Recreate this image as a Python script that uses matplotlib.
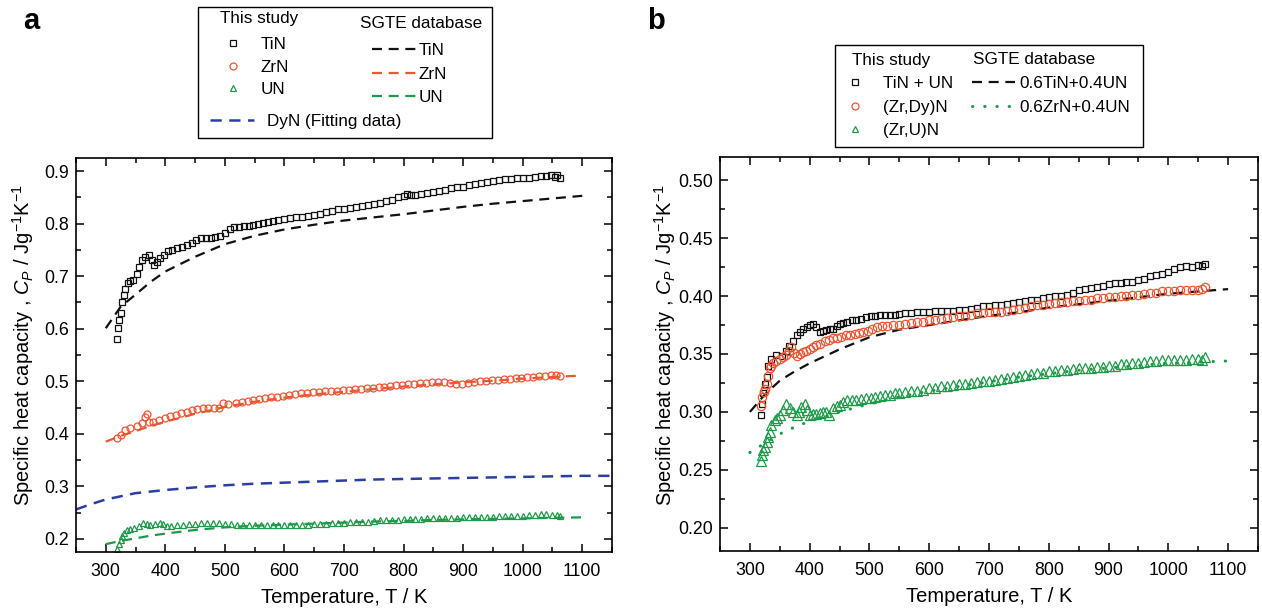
import numpy as np
import matplotlib
matplotlib.use('Agg')
import matplotlib.pyplot as plt
from matplotlib.lines import Line2D
from matplotlib.patches import Rectangle
from matplotlib.ticker import MultipleLocator, FormatStrFormatter

plt.rcParams['font.family'] = ['Liberation Sans', 'DejaVu Sans']
plt.rcParams['mathtext.fontset'] = 'custom'
plt.rcParams['mathtext.rm'] = 'Liberation Sans'
plt.rcParams['mathtext.it'] = 'Liberation Sans:italic'
plt.rcParams['mathtext.bf'] = 'Liberation Sans:bold'

BLACK = '#111111'
ORANGE = '#EE5533'
GREEN = '#1C9A48'
BLUE = '#2B3FA3'

# ---------------- panel a: measured data ----------------
tin_T = [319, 321, 323, 326, 328, 330, 333, 337, 341, 346, 352, 356, 361, 366, 372, 377, 381, 386, 391, 398,
         405, 412, 420, 428, 436, 444, 452, 460, 468, 476, 484, 492, 500, 508, 516, 524, 532, 540, 548, 556,
         564, 572, 580, 590, 600, 610, 620, 630, 640, 650, 660, 670, 680, 690, 700, 710, 720, 730, 740, 750,
         760, 770, 780, 790, 800, 806, 812, 820, 830, 840, 850, 860, 870, 880, 890, 900, 910, 920, 930, 940,
         950, 960, 970, 980, 990, 1000, 1010, 1020, 1030, 1040, 1048, 1054, 1058, 1062]
tin_cp = [0.580, 0.602, 0.617, 0.630, 0.651, 0.664, 0.675, 0.687, 0.690, 0.693, 0.705, 0.717, 0.731, 0.737, 0.740,
          0.731, 0.722, 0.727, 0.734, 0.740, 0.748, 0.750, 0.753, 0.756, 0.759, 0.764, 0.768, 0.772, 0.773, 0.773,
          0.774, 0.776, 0.782, 0.789, 0.793, 0.794, 0.795, 0.796, 0.797, 0.799, 0.802, 0.804, 0.805, 0.807, 0.808,
          0.810, 0.812, 0.813, 0.815, 0.817, 0.819, 0.822, 0.825, 0.827, 0.828, 0.830, 0.832, 0.834, 0.835, 0.837,
          0.840, 0.843, 0.846, 0.850, 0.852, 0.857, 0.854, 0.855, 0.857, 0.859, 0.861, 0.863, 0.865, 0.867, 0.869,
          0.870, 0.873, 0.876, 0.878, 0.880, 0.882, 0.884, 0.885, 0.885, 0.886, 0.886, 0.886, 0.888, 0.891, 0.890,
          0.893, 0.888, 0.892, 0.886]

zrn_T = [319, 325, 333, 341, 352, 361, 366, 369, 372, 380, 390, 400, 408, 418, 427, 436, 445, 454, 463, 472,
         481, 490, 496, 505, 518, 528, 538, 548, 558, 568, 578, 588, 598, 608, 618, 628, 638, 648, 658, 668,
         678, 688, 698, 708, 718, 728, 738, 748, 758, 768, 778, 788, 798, 808, 818, 828, 838, 848, 858, 868,
         878, 888, 898, 908, 918, 928, 938, 948, 958, 968, 978, 988, 998, 1008, 1018, 1028, 1038, 1048, 1056, 1062]
zrn_cp = [0.392, 0.398, 0.408, 0.411, 0.414, 0.420, 0.432, 0.437, 0.423, 0.423, 0.427, 0.430, 0.433, 0.436, 0.439,
          0.442, 0.445, 0.447, 0.449, 0.449, 0.449, 0.450, 0.458, 0.457, 0.458, 0.461, 0.463, 0.465, 0.467, 0.469,
          0.470, 0.471, 0.472, 0.473, 0.475, 0.477, 0.478, 0.479, 0.480, 0.481, 0.482, 0.482, 0.483, 0.484, 0.485,
          0.486, 0.487, 0.488, 0.489, 0.490, 0.491, 0.492, 0.493, 0.494, 0.495, 0.496, 0.497, 0.498, 0.499, 0.498,
          0.496, 0.494, 0.495, 0.497, 0.499, 0.500, 0.501, 0.502, 0.503, 0.504, 0.505, 0.506, 0.507, 0.508, 0.509,
          0.510, 0.510, 0.512, 0.511, 0.510]

un_T = [319, 322, 325, 328, 330, 336, 341, 347, 355, 363, 369, 375, 383, 391, 396, 402, 410, 420, 430, 440,
        450, 460, 470, 480, 490, 500, 510, 520, 530, 540, 550, 560, 570, 580, 590, 600, 610, 620, 630, 640,
        650, 660, 670, 680, 690, 700, 710, 720, 730, 740, 750, 760, 770, 780, 790, 800, 810, 820, 830, 840,
        850, 860, 870, 880, 890, 900, 910, 920, 930, 940, 950, 960, 970, 980, 990, 1000, 1010, 1020, 1030, 1040,
        1050, 1058, 1062]
un_cp = [0.180, 0.190, 0.198, 0.205, 0.211, 0.217, 0.219, 0.221, 0.224, 0.230, 0.228, 0.227, 0.228, 0.231, 0.229,
         0.224, 0.225, 0.226, 0.227, 0.228, 0.229, 0.230, 0.230, 0.230, 0.230, 0.229, 0.228, 0.227, 0.227, 0.227,
         0.227, 0.227, 0.227, 0.227, 0.227, 0.227, 0.227, 0.227, 0.227, 0.227, 0.228, 0.228, 0.229, 0.230, 0.230,
         0.231, 0.232, 0.232, 0.233, 0.233, 0.234, 0.235, 0.235, 0.236, 0.236, 0.237, 0.237, 0.238, 0.238, 0.239,
         0.239, 0.240, 0.240, 0.240, 0.240, 0.241, 0.241, 0.241, 0.242, 0.242, 0.242, 0.243, 0.243, 0.244, 0.244,
         0.244, 0.245, 0.246, 0.247, 0.247, 0.246, 0.245, 0.244]

# ---------------- panel a: SGTE database / fitting ----------------
sgte_T = [300, 325, 350, 375, 400, 450, 500, 550, 600, 650, 700, 750, 800, 850, 900, 950, 1000, 1050, 1100]
sgte_tin = [0.601, 0.642, 0.665, 0.689, 0.709, 0.737, 0.761, 0.777, 0.789, 0.798, 0.806, 0.812, 0.818, 0.825,
            0.832, 0.838, 0.843, 0.848, 0.853]
sgte_zrn = [0.385, 0.396, 0.405, 0.415, 0.423, 0.438, 0.451, 0.461, 0.469, 0.475, 0.480, 0.485, 0.490, 0.494,
            0.498, 0.501, 0.505, 0.508, 0.511]
sgte_un = [0.190, 0.196, 0.201, 0.206, 0.210, 0.217, 0.222, 0.225, 0.227, 0.229, 0.231, 0.233, 0.234, 0.236,
           0.237, 0.238, 0.239, 0.240, 0.241]

dyn_T = [250, 275, 300, 350, 400, 450, 500, 550, 600, 650, 700, 750, 800, 850, 900, 950, 1000, 1050, 1100, 1150]
dyn_cp = [0.256, 0.266, 0.275, 0.287, 0.293, 0.298, 0.302, 0.305, 0.307, 0.309, 0.311, 0.313, 0.314, 0.315,
          0.316, 0.317, 0.318, 0.319, 0.320, 0.320]

# ---------------- panel b: measured data ----------------
tiun_T = [318, 319.5, 322, 325, 328, 330.5, 336, 344, 353, 361, 366, 372, 378, 383, 389, 395, 400, 405, 411, 417,
          422, 428, 434, 439, 445, 450, 456, 462, 470, 478, 486, 494, 502, 510, 518, 526, 534, 542, 550, 560,
          570, 580, 590, 600, 610, 620, 630, 640, 650, 660, 670, 680, 690, 700, 710, 720, 730, 740, 750, 760,
          770, 780, 790, 800, 810, 820, 830, 840, 850, 860, 870, 880, 890, 900, 910, 920, 930, 940, 950, 960,
          970, 980, 990, 1000, 1010, 1020, 1030, 1040, 1050, 1056, 1061]
tiun_cp = [0.297, 0.307, 0.316, 0.3245, 0.330, 0.340, 0.346, 0.349, 0.348, 0.353, 0.357, 0.361, 0.366, 0.369,
           0.372, 0.3735, 0.375, 0.376, 0.3735, 0.369, 0.370, 0.371, 0.3715, 0.372, 0.374, 0.376, 0.377, 0.378,
           0.379, 0.379, 0.380, 0.382, 0.383, 0.383, 0.3835, 0.384, 0.384, 0.384, 0.3845, 0.385, 0.385, 0.386,
           0.386, 0.3865, 0.387, 0.387, 0.387, 0.3875, 0.388, 0.388, 0.389, 0.390, 0.391, 0.391, 0.392, 0.392,
           0.393, 0.394, 0.395, 0.396, 0.3965, 0.397, 0.398, 0.399, 0.400, 0.400, 0.401, 0.403, 0.405, 0.406,
           0.407, 0.408, 0.409, 0.410, 0.411, 0.4115, 0.412, 0.4125, 0.414, 0.415, 0.417, 0.418, 0.419, 0.421,
           0.423, 0.425, 0.426, 0.425, 0.427, 0.426, 0.428]

zrdy_T = [318, 320.5, 323, 325, 328, 330.5, 333, 336, 339, 344, 350, 355, 361, 366, 369.5, 374, 378, 383, 389,
          394.5, 400, 405, 411, 418, 425, 432, 439, 446, 453, 460, 467, 475, 483, 490, 498, 505, 513, 521, 530,
          540, 550, 560, 570, 580, 590, 600, 610, 620, 630, 640, 650, 660, 670, 680, 690, 700, 710, 720, 730,
          740, 750, 760, 770, 780, 790, 800, 810, 820, 830, 840, 850, 860, 870, 880, 890, 900, 910, 920, 930,
          940, 950, 960, 970, 980, 990, 1000, 1010, 1020, 1030, 1040, 1050, 1056, 1061]
zrdy_cp = [0.305, 0.313, 0.317, 0.320, 0.3245, 0.331, 0.3375, 0.340, 0.342, 0.344, 0.346, 0.347, 0.349, 0.353,
           0.356, 0.351, 0.348, 0.350, 0.352, 0.353, 0.354, 0.356, 0.3577, 0.359, 0.361, 0.362, 0.3635, 0.364,
           0.365, 0.366, 0.3664, 0.367, 0.3678, 0.369, 0.370, 0.372, 0.373, 0.374, 0.374, 0.375, 0.375, 0.376,
           0.377, 0.378, 0.378, 0.379, 0.379, 0.380, 0.381, 0.382, 0.383, 0.383, 0.384, 0.385, 0.385, 0.386,
           0.386, 0.386, 0.387, 0.388, 0.389, 0.390, 0.391, 0.392, 0.392, 0.393, 0.394, 0.395, 0.395, 0.396,
           0.396, 0.397, 0.397, 0.398, 0.398, 0.399, 0.399, 0.400, 0.400, 0.401, 0.401, 0.402, 0.403, 0.403,
           0.404, 0.404, 0.404, 0.405, 0.405, 0.405, 0.405, 0.406, 0.408]

zru_T = [318, 319.5, 322, 325, 328, 330.5, 333, 336, 341.7, 346, 350, 355.5, 361, 366.7, 372, 378, 382, 386,
         391.7, 396, 400, 405, 411, 417, 422, 428, 433, 439, 445, 450, 455.5, 462, 470, 478, 486, 494.5, 502,
         510, 518, 526, 534, 542, 550, 560, 570, 580, 590, 600, 610, 620, 630, 640, 650, 660, 670, 680, 690,
         700, 710, 720, 730, 740, 750, 760, 770, 780, 790, 800, 810, 820, 830, 840, 850, 860, 870, 880, 890,
         900, 910, 920, 930, 940, 950, 960, 970, 980, 990, 1000, 1010, 1020, 1030, 1040, 1050, 1056, 1061]
zru_cp = [0.2576, 0.2625, 0.267, 0.270, 0.274, 0.278, 0.2827, 0.2885, 0.293, 0.295, 0.297, 0.3015, 0.307, 0.303,
          0.300, 0.297, 0.300, 0.3043, 0.307, 0.302, 0.297, 0.298, 0.2986, 0.299, 0.300, 0.300, 0.297, 0.303,
          0.305, 0.306, 0.309, 0.310, 0.310, 0.310, 0.311, 0.3116, 0.312, 0.313, 0.314, 0.3145, 0.315, 0.316,
          0.3165, 0.317, 0.318, 0.3185, 0.319, 0.3205, 0.321, 0.322, 0.322, 0.323, 0.324, 0.3245, 0.325, 0.326,
          0.3265, 0.327, 0.3275, 0.328, 0.329, 0.330, 0.331, 0.332, 0.333, 0.3335, 0.334, 0.335, 0.335, 0.336,
          0.336, 0.337, 0.3375, 0.338, 0.338, 0.339, 0.339, 0.340, 0.340, 0.341, 0.341, 0.342, 0.342, 0.343,
          0.344, 0.344, 0.3445, 0.345, 0.345, 0.345, 0.345, 0.346, 0.346, 0.345, 0.3476]

# ---------------- panel b: SGTE mixtures ----------------
mix_T = [300, 325, 350, 375, 400, 450, 500, 550, 600, 650, 700, 750, 800, 850, 900, 950, 1000, 1050, 1100]
mix_tiun = [0.300, 0.315, 0.327, 0.335, 0.342, 0.354, 0.3645, 0.371, 0.375, 0.379, 0.383, 0.386, 0.390, 0.393,
            0.396, 0.399, 0.402, 0.404, 0.406]
mix_zrun = [0.265, 0.273, 0.281, 0.287, 0.292, 0.300, 0.307, 0.313, 0.318, 0.322, 0.326, 0.330, 0.333, 0.336,
            0.338, 0.340, 0.342, 0.343, 0.344]

W, H = 1262, 613
DASH = (4.5, 3)
DOT = (0.1, 3.9)
LEG_FS = 12.3


def fx(px):
    return px / W


def fy(py):
    return 1 - py / H


def style_axes(ax, ymajor, yminor, yfmt, ypad, ylab_y):
    ax.set_xlim(250, 1150)
    ax.xaxis.set_major_locator(MultipleLocator(100))
    ax.xaxis.set_minor_locator(MultipleLocator(50))
    ax.yaxis.set_major_locator(MultipleLocator(ymajor))
    ax.yaxis.set_minor_locator(MultipleLocator(yminor))
    ax.yaxis.set_major_formatter(FormatStrFormatter(yfmt))
    ax.tick_params(which='both', direction='in', top=True, right=True, labelsize=12.8, width=1.1)
    ax.tick_params(which='major', length=6)
    ax.tick_params(which='minor', length=3.5)
    ax.tick_params(axis='x', which='major', pad=8)
    ax.tick_params(axis='y', which='major', pad=5)
    for sp in ax.spines.values():
        sp.set_linewidth(1.2)
    ax.set_xlabel('Temperature, T / K', fontsize=14.5, labelpad=6)
    ax.set_ylabel(r'Specific heat capacity , $C_P$ / Jg$^{-1}$K$^{-1}$', fontsize=14.5, labelpad=ypad)
    ax.yaxis.label.set_y(ylab_y)


def sub_legend(handles, labels, x_px, top_px, hlen, hpad, lspace):
    leg = fig.legend(handles, labels, loc='upper left', bbox_to_anchor=(fx(x_px), fy(top_px)),
                     fontsize=LEG_FS, frameon=False, borderpad=0, borderaxespad=0,
                     handlelength=hlen, handletextpad=hpad, labelspacing=lspace, numpoints=1)
    return leg


def frame(x0, y0, x1, y1):
    fig.patches.append(Rectangle((fx(x0), fy(y1)), fx(x1) - fx(x0), fy(y0) - fy(y1),
                                 transform=fig.transFigure, facecolor='white', edgecolor='black',
                                 linewidth=1.0, zorder=0))


fig = plt.figure(figsize=(12.62, 6.13), dpi=100)
ax1 = fig.add_axes([fx(76), fy(552), 536 / W, 394 / H])
ax2 = fig.add_axes([fx(720), fy(551), 538 / W, 394 / H])

# panel a
ax1.plot(sgte_T, sgte_tin, color=BLACK, lw=1.6, dashes=DASH)
ax1.plot(sgte_T, sgte_zrn, color=ORANGE, lw=1.6, dashes=DASH)
ax1.plot(sgte_T, sgte_un, color=GREEN, lw=1.6, dashes=DASH)
ax1.plot(dyn_T, dyn_cp, color=BLUE, lw=1.8, dashes=DASH)
ax1.plot(tin_T, tin_cp, 's', ms=4.5, mfc='none', mec=BLACK, mew=0.9)
ax1.plot(zrn_T, zrn_cp, 'o', ms=5, mfc='none', mec=ORANGE, mew=0.9)
ax1.plot(un_T, un_cp, '^', ms=5, mfc='none', mec=GREEN, mew=0.9)
ax1.set_ylim(0.175, 0.925)
style_axes(ax1, 0.1, 0.05, '%.1f', 6, 0.525)

# panel b
ax2.plot(mix_T, mix_tiun, color=BLACK, lw=1.6, dashes=DASH)
ax2.plot(mix_T, mix_zrun, color=GREEN, lw=2.2, dashes=DOT, dash_capstyle='round')
ax2.plot(tiun_T, tiun_cp, 's', ms=5, mfc='none', mec=BLACK, mew=0.9)
ax2.plot(zrdy_T, zrdy_cp, 'o', ms=6, mfc='none', mec=ORANGE, mew=0.9)
ax2.plot(zru_T, zru_cp, '^', ms=6.5, mfc='none', mec=GREEN, mew=0.9)
ax2.set_ylim(0.18, 0.52)
style_axes(ax2, 0.05, 0.025, '%.2f', 0, 0.523)

fig.text(fx(23), fy(29), 'a', fontsize=21, fontweight='bold', va='baseline')
fig.text(fx(647), fy(29), 'b', fontsize=21, fontweight='bold', va='baseline')

# ---------------- legend a (Origin-style, built from pieces) ----------------
sq = Line2D([], [], ls='none', marker='s', ms=4.5, mfc='none', mec=BLACK, mew=0.9)
ci = Line2D([], [], ls='none', marker='o', ms=5, mfc='none', mec=ORANGE, mew=0.9)
tr = Line2D([], [], ls='none', marker='^', ms=5, mfc='none', mec=GREEN, mew=0.9)

frame(198, 7, 492, 138)
fig.text(fx(220), fy(18), 'This study', fontsize=LEG_FS, va='center')
fig.text(fx(360), fy(24), 'SGTE database', fontsize=LEG_FS, va='center')
sub_legend([sq, ci, tr], ['TiN', 'ZrN', 'UN'], 216, 37, 2.0, 0.6, 0.45)
sub_legend([Line2D([], [], color=c, lw=1.6, dashes=DASH) for c in (BLACK, ORANGE, GREEN)],
           ['TiN', 'ZrN', 'UN'], 372, 43, 2.6, 0.15, 0.5)
sub_legend([Line2D([], [], color=BLUE, lw=1.8, dashes=DASH)], ['DyN (Fitting data)'], 210, 114, 2.6, 0.75, 0.2)

# ---------------- legend b ----------------
sq_b = Line2D([], [], ls='none', marker='s', ms=4.5, mfc='none', mec=BLACK, mew=0.9)
ci_b = Line2D([], [], ls='none', marker='o', ms=5, mfc='none', mec=ORANGE, mew=0.9)
tr_b = Line2D([], [], ls='none', marker='^', ms=5, mfc='none', mec=GREEN, mew=0.9)

frame(835, 45, 1143, 147)
fig.text(fx(852), fy(60), 'This study', fontsize=LEG_FS, va='center')
fig.text(fx(973), fy(60), 'SGTE database', fontsize=LEG_FS, va='center')
sub_legend([sq_b, ci_b, tr_b], ['TiN + UN', '(Zr,Dy)N', '(Zr,U)N'], 838, 76, 2.0, 0.65, 0.5)
sub_legend([Line2D([], [], color=BLACK, lw=1.6, dashes=DASH),
            Line2D([], [], color=GREEN, lw=2.2, dashes=DOT, dash_capstyle='round')],
           ['0.6TiN+0.4UN', '0.6ZrN+0.4UN'], 972, 76, 2.5, 0.3, 0.5)

plt.savefig('out.png', dpi=100)
